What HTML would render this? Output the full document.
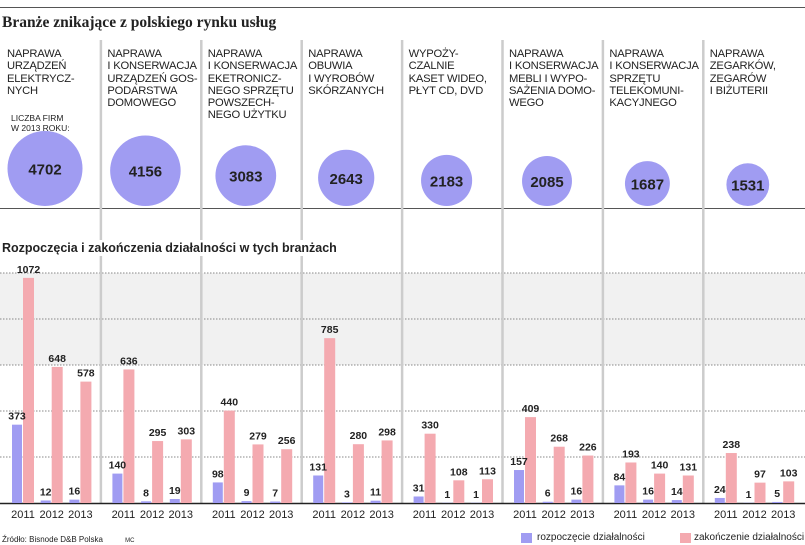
<!DOCTYPE html>
<html><head><meta charset="utf-8">
<style>
body{margin:0;background:#fff;}
#root{position:relative;width:805px;height:545px;overflow:hidden;font-family:"Liberation Sans",sans-serif;color:#222;}
.t{position:absolute;white-space:nowrap;}
.cat{position:absolute;top:48px;font-size:11.2px;line-height:12.3px;color:#222;letter-spacing:-0.2px;}
</style></head>
<body>
<div id="root">
<div style="position:absolute;left:0;top:7px;width:805px;height:1px;background:#555"></div>
<div class="t" style="left:2px;top:14px;font-family:'Liberation Serif',serif;font-weight:bold;font-size:15.5px">Branże znikające z polskiego rynku usług</div>
<div class="t" style="left:11px;top:113px;font-size:8.5px;line-height:10px">LICZBA FIRM<br>W 2013 ROKU:</div>
<div style="position:absolute;left:0;top:208px;width:805px;height:1px;background:#555"></div>
<svg id="chart" width="805" height="545" style="position:absolute;left:0;top:0"></svg>
<div class="t" style="left:0px;top:240px;padding:1px 3px 1px 2px;background:#fff;font-weight:bold;font-size:12.5px">Rozpoczęcia i zakończenia działalności w tych branżach</div>
<div class="t" style="left:2px;top:535px;font-size:8px">Źródło: Bisnode D&amp;B Polska&nbsp;&nbsp;&nbsp;&nbsp;&nbsp;&nbsp;&nbsp;&nbsp;&nbsp;&nbsp;<span style="font-size:6px">MC</span></div>
<div style="position:absolute;left:521px;top:533px;width:11px;height:10px;background:#a09cf2"></div>
<div class="t" style="left:537px;top:532px;font-size:10px">rozpoczęcie działalności</div>
<div style="position:absolute;left:680px;top:533px;width:11px;height:10px;background:#f4aab0"></div>
<div class="t" style="left:694px;top:532px;font-size:10px">zakończenie działalności</div>
</div>
<script>
const categories=["NAPRAWA<br>URZĄDZEŃ<br>ELEKTRYCZ-<br>NYCH","NAPRAWA<br>I KONSERWACJA<br>URZĄDZEŃ GOS-<br>PODARSTWA<br>DOMOWEGO","NAPRAWA<br>I KONSERWACJA<br>EKETRONICZ-<br>NEGO SPRZĘTU<br>POWSZECH-<br>NEGO UŻYTKU","NAPRAWA<br>OBUWIA<br>I WYROBÓW<br>SKÓRZANYCH","WYPOŻY-<br>CZALNIE<br>KASET WIDEO,<br>PŁYT CD, DVD","NAPRAWA<br>I KONSERWACJA<br>MEBLI I WYPO-<br>SAŻENIA DOMO-<br>WEGO","NAPRAWA<br>I KONSERWACJA<br>SPRZĘTU<br>TELEKOMUNI-<br>KACYJNEGO","NAPRAWA<br>ZEGARKÓW,<br>ZEGARÓW<br>I BIŻUTERII"];
const firms2013=[4702,4156,3083,2643,2183,2085,1687,1531];
const years=["2011","2012","2013"];
const starts=[[373,12,16],[140,8,19],[98,9,7],[131,3,11],[31,1,1],[157,6,16],[84,16,14],[24,1,5]];
const ends=[[1072,648,578],[636,295,303],[440,279,256],[785,280,298],[330,108,113],[409,268,226],[193,140,131],[238,97,103]];
const gridVals=[219,438,657,876,1095];

const root=document.getElementById('root');
const svg=document.getElementById('chart');
const NS='http://www.w3.org/2000/svg';
const base=503, k=0.21;
const y=v=>base-v*k;
const gx=i=>i*100.4;
function mk(tag,attrs){const e=document.createElementNS(NS,tag);for(const a in attrs)e.setAttribute(a,attrs[a]);svg.appendChild(e);return e;}
const band=mk('rect',{x:0,y:y(gridVals[4]),width:805,height:y(gridVals[2])-y(gridVals[4]),fill:'#f1f1f1'});


gridVals.forEach(v=>{const l=mk('line',{x1:0,x2:805,y1:y(v),y2:y(v),stroke:'#888','stroke-width':1,'stroke-dasharray':'1.5,1.5'});

});
for(let i=1;i<8;i++){const l=mk('line',{x1:gx(i)+0.5,x2:gx(i)+0.5,y1:40,y2:503,stroke:'#ccc','stroke-width':2.5});

}
const bl=mk('line',{x1:0,x2:805,y1:base+0.5,y2:base+0.5,stroke:'#222','stroke-width':1.5});


categories.forEach((c,i)=>{
  const d=document.createElement('div');d.className='cat';d.style.left=(gx(i)+7)+'px';d.innerHTML=c;
  
  
  root.appendChild(d);
  const r=37.5*Math.sqrt(firms2013[i]/4702);
  const cx=gx(i)+45, cy=206-r;
  const ci=mk('circle',{cx:cx,cy:cy,r:r,fill:'#a09cf2'});
  
  
  const t=mk('text',{x:cx,y:cy+6,'text-anchor':'middle','font-size':15,'font-weight':'bold','font-family':'Liberation Sans, sans-serif',fill:'#222'});
  t.textContent=firms2013[i];
  
  
  years.forEach((yr,j)=>{
    const x0=gx(i)+12+j*28.7;
    const b1=mk('rect',{x:x0,y:y(starts[i][j]),width:10,height:starts[i][j]*k,fill:'#a09cf2'});
    
    
    const b2=mk('rect',{x:x0+11,y:y(ends[i][j]),width:11,height:ends[i][j]*k,fill:'#f4aab0'});
    
    
    const l1=mk('text',{x:x0+5,y:y(starts[i][j])-5,'text-anchor':'middle','font-size':10.5,'font-weight':'bold','font-family':'Liberation Sans, sans-serif',fill:'#222'});
    l1.textContent=starts[i][j];
    
    
    const l2=mk('text',{x:x0+16.5,y:y(ends[i][j])-5,'text-anchor':'middle','font-size':10.5,'font-weight':'bold','font-family':'Liberation Sans, sans-serif',fill:'#222'});
    l2.textContent=ends[i][j];
    
    
    const yl=mk('text',{x:x0+11,y:518,'text-anchor':'middle','font-size':11,'font-family':'Liberation Sans, sans-serif',fill:'#222'});
    yl.textContent=yr;
    
    
  });
});
</script>
</body></html>
